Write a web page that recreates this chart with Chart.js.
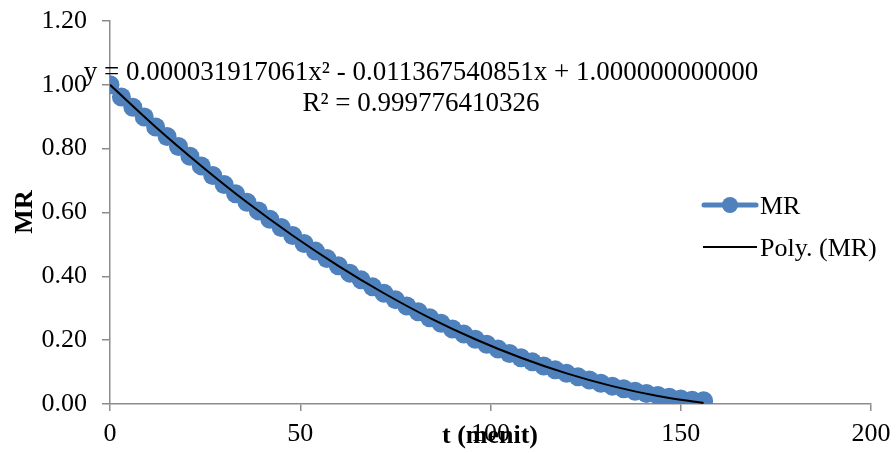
<!DOCTYPE html>
<html>
<head>
<meta charset="utf-8">
<style>
  html, body { margin: 0; padding: 0; background: #fff; }
  #wrap { width: 896px; height: 453px; position: relative; }
</style>
<script src="https://cdn.jsdelivr.net/npm/chart.js@4"></script>
</head>
<body>
<div id="wrap"><canvas id="mrChart" width="896" height="453"></canvas></div>
<script>
// time (menit) and moisture ratio
const tMenit = [0, 3, 6, 9, 12, 15, 18, 21, 24, 27, 30, 33, 36, 39, 42, 45, 48, 51, 54, 57,
  60, 63, 66, 69, 72, 75, 78, 81, 84, 87, 90, 93, 96, 99, 102, 105, 108, 111, 114, 117,
  120, 123, 126, 129, 132, 135, 138, 141, 144, 147, 150, 153, 156];
const mrValues = [1.000, 0.962, 0.930, 0.899, 0.868, 0.838, 0.807, 0.776, 0.746, 0.716,
  0.688, 0.659, 0.632, 0.605, 0.579, 0.553, 0.528, 0.503, 0.479, 0.456,
  0.433, 0.410, 0.389, 0.367, 0.347, 0.327, 0.307, 0.289, 0.270, 0.253,
  0.235, 0.219, 0.203, 0.187, 0.172, 0.158, 0.145, 0.132, 0.119, 0.107,
  0.096, 0.085, 0.075, 0.065, 0.056, 0.048, 0.040, 0.033, 0.027, 0.021,
  0.016, 0.012, 0.010];
// polynomial trend line as it is drawn in the picture
const trendT = [0, 12, 24, 36, 48, 60, 72, 84, 96, 108, 120, 132, 144, 156];
const trendValues = [1.000, 0.868, 0.746, 0.632, 0.528, 0.433, 0.347, 0.270, 0.203, 0.145, 0.096, 0.056, 0.025, 0.003];
const xTicks = [0, 50, 100, 150, 200];
const yTicks = [0, 0.2, 0.4, 0.6, 0.8, 1.0, 1.2];
const eqText = 'y = 0.000031917061x² - 0.011367540851x + 1.000000000000';
const r2Text = 'R² = 0.999776410326';

const serif = '"Liberation Serif", "Times New Roman", serif';
const axisGrey = '#8c8c8c';
const blue = '#4f81bd';

const overlay = {
  id: 'overlay',
  afterDraw(chart) {
    const c = chart.ctx;
    c.save();
    c.fillStyle = '#000';
    c.font = '27px ' + serif;
    c.textAlign = 'center';
    c.textBaseline = 'alphabetic';
    c.fillText(eqText, 421, 80);
    c.fillText(r2Text, 421, 111);

    // axis titles
    c.font = 'bold 26px ' + serif;
    c.fillText('t (menit)', 490, 443);
    c.save();
    c.translate(32, 212);
    c.rotate(-Math.PI / 2);
    c.fillText('MR', 0, 0);
    c.restore();

    // legend
    c.textAlign = 'left';
    c.font = '26px ' + serif;
    c.strokeStyle = blue;
    c.lineWidth = 5;
    c.lineCap = 'round';
    c.beginPath(); c.moveTo(704, 205); c.lineTo(756, 205); c.stroke();
    c.fillStyle = blue;
    c.beginPath(); c.arc(730, 205, 8, 0, Math.PI * 2); c.fill();
    c.fillStyle = '#000';
    c.fillText(chart.data.datasets[0].label, 760, 214);
    c.strokeStyle = '#000';
    c.lineWidth = 2;
    c.lineCap = 'butt';
    c.beginPath(); c.moveTo(703, 247); c.lineTo(757, 247); c.stroke();
    c.fillText(chart.data.datasets[1].label, 760, 256);
    c.restore();
  }
};

new Chart(document.getElementById('mrChart').getContext('2d'), {
  type: 'scatter',
  data: {
    datasets: [{
      label: 'MR',
      data: tMenit.map((t, i) => ({ x: t, y: mrValues[i] })),
      showLine: true,
      borderColor: blue,
      borderWidth: 4,
      backgroundColor: blue,
      pointRadius: 9.5,
      pointBorderWidth: 0,
      order: 2
    }, {
      label: 'Poly. (MR)',
      data: trendT.map((t, i) => ({ x: t, y: trendValues[i] })),
      showLine: true,
      borderColor: '#000',
      borderWidth: 2,
      pointRadius: 0,
      cubicInterpolationMode: 'monotone',
      order: 1
    }]
  },
  options: {
    responsive: false,
    animation: false,
    layout: { padding: { top: 21, right: 25, left: 0, bottom: 0 } },
    plugins: { legend: { display: false }, tooltip: { enabled: false } },
    scales: {
      x: {
        type: 'linear', min: 0, max: 200,
        afterBuildTicks: s => { s.ticks = xTicks.map(v => ({ value: v })); },
        afterFit: s => { s.height = 49; s.paddingLeft = 0; s.paddingRight = 0; },
        border: { color: axisGrey, width: 1.5 },
        grid: { drawOnChartArea: false, drawTicks: true, tickLength: 7, color: axisGrey, lineWidth: 1.5 },
        ticks: { color: '#000', font: { family: serif, size: 26 }, padding: 8, maxRotation: 0 }
      },
      y: {
        type: 'linear', min: 0, max: 1.2,
        afterBuildTicks: s => { s.ticks = yTicks.map(v => ({ value: v })); },
        afterFit: s => { s.width = 110; s.paddingTop = 0; s.paddingBottom = 0; },
        border: { color: axisGrey, width: 1.5 },
        grid: { drawOnChartArea: false, drawTicks: true, tickLength: 8, color: axisGrey, lineWidth: 1.5 },
        ticks: { color: '#000', font: { family: serif, size: 26 }, padding: 15, callback: v => v.toFixed(2) }
      }
    }
  },
  plugins: [overlay]
});
</script>
</body>
</html>
